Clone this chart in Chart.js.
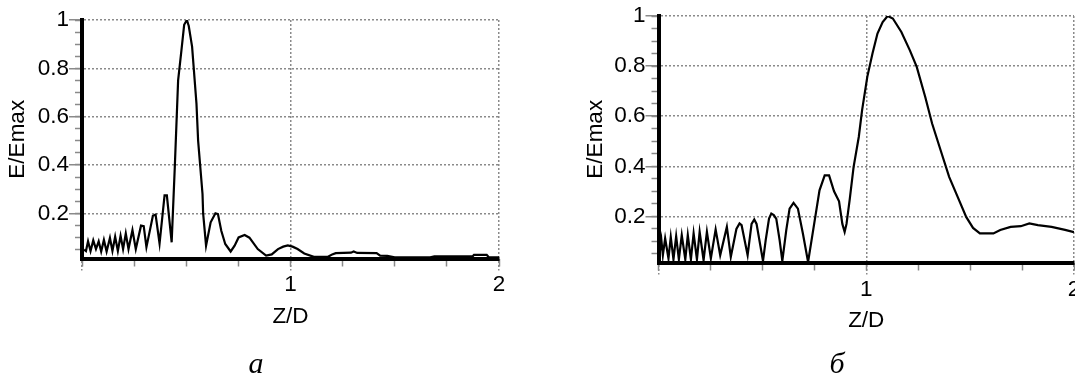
<!DOCTYPE html>
<html>
<head>
<meta charset="utf-8">
<script src="https://cdn.jsdelivr.net/npm/chart.js@4.4.1/dist/chart.umd.min.js"></script>
<style>
  body { margin: 0; background: #fff; width: 1075px; height: 378px; overflow: hidden; position: relative; }
  .box { position: absolute; top: 0; height: 378px; }
  .cap { position: absolute; top: 348px; width: 40px; text-align: center;
         font-family: "Liberation Serif", "Times New Roman", serif; font-style: italic;
         font-size: 30px; line-height: 30px; }
</style>
</head>
<body>
<div class="box" style="left:0;width:530px"><canvas id="chartA"></canvas></div>
<div class="box" style="left:540px;width:535px"><canvas id="chartB"></canvas></div>
<div class="cap" style="left:236px">а</div>
<div class="cap" style="left:817px">б</div>
<script>
// panel "а": Z/D and E/Emax
const zA = [0.01, 0.019, 0.029, 0.041, 0.054, 0.067, 0.08, 0.092, 0.105, 0.118,
  0.134, 0.146, 0.159, 0.172, 0.185, 0.197, 0.21, 0.223, 0.242, 0.258,
  0.283, 0.296, 0.309, 0.34, 0.353, 0.372, 0.396, 0.407, 0.43, 0.445,
  0.461, 0.477, 0.49, 0.503, 0.512, 0.528, 0.549, 0.557, 0.578, 0.581,
  0.595, 0.617, 0.64, 0.652, 0.668, 0.687, 0.713, 0.732, 0.751, 0.78,
  0.803, 0.843, 0.883, 0.91, 0.94, 0.965, 0.987, 1.01, 1.034, 1.066,
  1.112, 1.18, 1.2, 1.217, 1.29, 1.303, 1.32, 1.413, 1.43, 1.464,
  1.5, 1.67, 1.69, 1.874, 1.88, 1.941, 1.95, 2.0];
const eA = [0.05, 0.044, 0.084, 0.044, 0.088, 0.052, 0.084, 0.042, 0.09, 0.042,
  0.098, 0.044, 0.103, 0.044, 0.107, 0.052, 0.117, 0.052, 0.131, 0.052,
  0.149, 0.147, 0.06, 0.19, 0.195, 0.075, 0.274, 0.274, 0.08, 0.39,
  0.75, 0.875, 0.98, 1.0, 0.975, 0.89, 0.654, 0.5, 0.28, 0.2,
  0.066, 0.163, 0.2, 0.197, 0.128, 0.073, 0.042, 0.066, 0.1, 0.11,
  0.099, 0.052, 0.025, 0.03, 0.052, 0.062, 0.067, 0.062, 0.052, 0.034,
  0.02, 0.02, 0.03, 0.035, 0.037, 0.042, 0.036, 0.035, 0.025, 0.024,
  0.018, 0.018, 0.022, 0.022, 0.028, 0.028, 0.019, 0.018];

// panel "б"
const zB = [0.005, 0.014, 0.021, 0.032, 0.048, 0.059, 0.072, 0.085, 0.098, 0.112,
  0.129, 0.141, 0.156, 0.169, 0.185, 0.198, 0.217, 0.233, 0.252, 0.275,
  0.297, 0.329, 0.348, 0.375, 0.39, 0.40, 0.429, 0.448, 0.461, 0.472,
  0.503, 0.516, 0.532, 0.543, 0.555, 0.567, 0.583, 0.596, 0.615, 0.631,
  0.65, 0.671, 0.695, 0.72, 0.742, 0.775, 0.80, 0.821, 0.845, 0.869,
  0.885, 0.896, 0.905, 0.92, 0.939, 0.964, 0.98, 1.005, 1.03, 1.054,
  1.079, 1.103, 1.128, 1.169, 1.21, 1.243, 1.284, 1.317, 1.358, 1.399,
  1.44, 1.481, 1.514, 1.547, 1.612, 1.645, 1.695, 1.744, 1.785, 1.826,
  1.892, 1.957, 2.0];
const eB = [0.05, 0.105, 0.045, 0.112, 0.032, 0.118, 0.028, 0.121, 0.028, 0.125,
  0.028, 0.125, 0.028, 0.132, 0.028, 0.138, 0.025, 0.138, 0.032, 0.148,
  0.045, 0.158, 0.038, 0.15, 0.172, 0.165, 0.045, 0.17, 0.188, 0.17,
  0.022, 0.105, 0.191, 0.211, 0.205, 0.19, 0.105, 0.022, 0.145, 0.231,
  0.254, 0.231, 0.132, 0.018, 0.132, 0.304, 0.364, 0.364, 0.3, 0.26,
  0.17, 0.138, 0.17, 0.265, 0.397, 0.517, 0.624, 0.757, 0.85, 0.93,
  0.976, 1.0, 0.99, 0.936, 0.863, 0.797, 0.677, 0.571, 0.464, 0.358,
  0.278, 0.198, 0.154, 0.132, 0.132, 0.146, 0.158, 0.161, 0.172, 0.165,
  0.158, 0.146, 0.137];

Chart.defaults.font.family = '"Liberation Sans", Arial, sans-serif';
Chart.defaults.font.size = 22.5;
Chart.defaults.color = '#000';

const GRID = '#8a8a8a';

// fixed box sizes, and no extra room reserved for the edge labels
function fixBox(size) {
  return s => {
    if (s.isHorizontal()) s.height = size; else s.width = size;
    s.paddingLeft = s.paddingRight = s.paddingTop = s.paddingBottom = 0;
  };
}

function makeChart(id, zs, es, cfg) {
  const pts = zs.map((z, i) => ({ x: z, y: es[i] }));
  return new Chart(document.getElementById(id), {
    type: 'line',
    data: {
      datasets: [{ data: pts, borderColor: '#000', borderWidth: 2.2,
                   pointRadius: 0, tension: 0, fill: false }]
    },
    options: {
      responsive: true,
      maintainAspectRatio: false,
      animation: false,
      layout: { autoPadding: false,
                padding: { left: 0, right: cfg.padRight, top: cfg.top, bottom: 0 } },
      plugins: { legend: { display: false }, tooltip: { enabled: false } },
      scales: {
        x: {
          type: 'linear', axis: 'x', position: 'bottom', weight: 1, min: 0, max: 2,
          afterFit: fixBox(cfg.xHeight),
          ticks: { stepSize: 1, padding: cfg.xTickPad, maxRotation: 0, autoSkip: false,
                   callback: v => v === 0 ? '' : String(v) },
          grid: { color: GRID, lineWidth: 1.5, tickLength: 12, tickColor: GRID,
                  tickBorderDash: [2, 2] },
          border: { display: true, color: '#000', width: 4, dash: [2, 2] },
          title: { display: true, text: 'Z/D', padding: { top: 0, bottom: cfg.xTitlePad } }
        },
        xm: {
          type: 'linear', axis: 'x', position: 'bottom', weight: 0, min: 0, max: 2,
          afterFit: fixBox(0),
          ticks: { stepSize: 0.25, display: false },
          grid: { drawOnChartArea: false, tickLength: 8, tickColor: GRID, tickWidth: 1.5 },
          border: { display: false }
        },
        y: {
          type: 'linear', axis: 'y', position: 'left', weight: 1, min: cfg.ymin, max: 1,
          afterFit: fixBox(cfg.yWidth),
          ticks: { stepSize: 0.2, includeBounds: false, padding: 0,
                   callback: v => v > 0.999 ? '1' : v.toFixed(1) },
          grid: { color: GRID, lineWidth: 1.5, tickLength: 13, tickColor: GRID },
          border: { display: true, color: '#000', width: 4, dash: [2, 2] },
          title: { display: true, text: 'E/Emax', padding: { top: cfg.yTitlePad, bottom: 0 } }
        },
        ym: {
          type: 'linear', axis: 'y', position: 'left', weight: 0, min: cfg.ymin, max: 1,
          afterFit: fixBox(0),
          ticks: { stepSize: 0.05, includeBounds: false, display: false },
          grid: { drawOnChartArea: false, tickLength: 7, tickColor: GRID, tickWidth: 1.5 },
          border: { display: false }
        }
      }
    }
  });
}

makeChart('chartA', zA, eA, {
  top: 20, padRight: 31, xHeight: 119.5, yWidth: 82, ymin: 0.013,
  xTickPad: 1, xTitlePad: 48, yTitlePad: 4
});
makeChart('chartB', zB, eB, {
  top: 16, padRight: 1, xHeight: 115.5, yWidth: 118.5, ymin: 0.016,
  xTickPad: 2, xTitlePad: 44, yTitlePad: 42
});
</script>
</body>
</html>
